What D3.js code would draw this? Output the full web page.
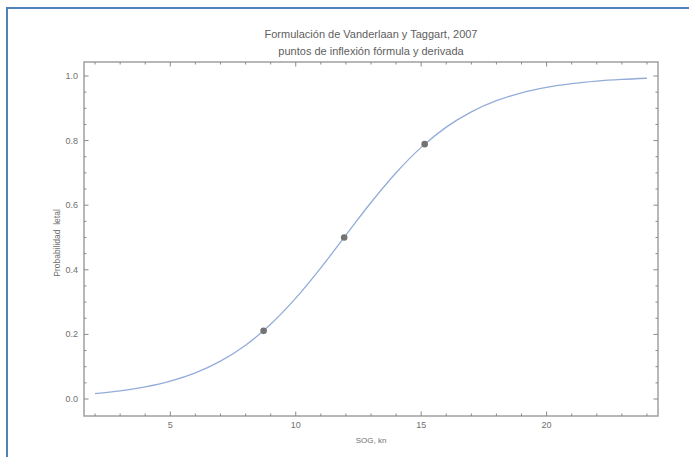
<!DOCTYPE html>
<html><head><meta charset="utf-8">
<script src="https://cdn.jsdelivr.net/npm/d3@7"></script>
<style>body{margin:0;background:#fff}svg{display:block;font-family:"Liberation Sans",Arial,sans-serif}</style>
</head><body><svg id="c" width="689" height="457"></svg>
<script>
const sogValues = [2,3,4,5,6,7,8,9,10,11,12,13,14,15,16,17,18,19,20,21,22,23,24];
const probValues = [0.0168,0.0251,0.0373,0.0552,0.0809,0.1171,0.1666,0.2315,0.3122,0.4061,0.5075,0.6083,0.7006,0.7790,0.8416,0.8890,0.9235,0.9479,0.9648,0.9764,0.9842,0.9894,0.9930];
const pointX = [8.72, 11.93, 15.14];
const pointY = [0.211, 0.5, 0.789];
const xTickLabels = [5, 10, 15, 20];
const yTickLabels = [0.0, 0.2, 0.4, 0.6, 0.8, 1.0];
const titleLines = ["Formulación de Vanderlaan y Taggart, 2007", "puntos de inflexión fórmula y derivada"];
const xLabel = "SOG, kn";
const yLabel = "Probabilidad  letal";

const svg = d3.select("#c");
const L = 84, R = 658, T = 62, B = 416;
const x = d3.scaleLinear().domain([1.56, 24.44]).range([L, R]);
const y = d3.scaleLinear().domain([-0.0526, 1.0433]).range([B, T]);

// page border
svg.append("path").attr("d", `M7,457 L7,8 L689,8`).attr("fill","none").attr("stroke","#4f81bd").attr("stroke-width",2);

// curve
const data = sogValues.map((v,i)=>[v, probValues[i]]);
svg.append("path").datum(data)
  .attr("d", d3.line().x(d=>x(d[0])).y(d=>y(d[1])).curve(d3.curveCatmullRom.alpha(0.5)))
  .attr("fill","none").attr("stroke","#93acd9").attr("stroke-width",1.3);

// points
svg.selectAll("circle.p").data(pointX.map((v,i)=>[v,pointY[i]])).enter().append("circle")
  .attr("cx",d=>x(d[0])).attr("cy",d=>y(d[1])).attr("r",3.3).attr("fill","#737373");

// frame
const frameColor = "#a0a0a0";
const tickColor = "#8a8a8a";
svg.append("rect").attr("x",L).attr("y",T).attr("width",R-L).attr("height",B-T)
  .attr("fill","none").attr("stroke",frameColor).attr("stroke-width",1.5);

// ticks
const xMinor = d3.range(2, 25, 1);
const yMinor = d3.range(0, 1.0001, 0.05).map(v=>+v.toFixed(2));
const g = svg.append("g").attr("stroke",tickColor).attr("stroke-width",1);
xMinor.forEach(v=>{
  const major = xTickLabels.includes(v);
  const len = major ? 4.5 : 2.5;
  g.append("line").attr("x1",x(v)).attr("x2",x(v)).attr("y1",B).attr("y2",B-len);
  g.append("line").attr("x1",x(v)).attr("x2",x(v)).attr("y1",T).attr("y2",T+len);
});
yMinor.forEach(v=>{
  const major = yTickLabels.some(t=>Math.abs(t-v)<1e-6);
  const len = major ? 4.5 : 2.5;
  g.append("line").attr("y1",y(v)).attr("y2",y(v)).attr("x1",L).attr("x2",L+len);
  g.append("line").attr("y1",y(v)).attr("y2",y(v)).attr("x1",R).attr("x2",R-len);
});

// tick labels
svg.selectAll("text.xt").data(xTickLabels).enter().append("text")
  .attr("x",d=>x(d)).attr("y",B+12).attr("text-anchor","middle")
  .attr("font-size",9).attr("fill","#707070").text(d=>d);
svg.selectAll("text.yt").data(yTickLabels).enter().append("text")
  .attr("x",L-6).attr("y",d=>y(d)+3).attr("text-anchor","end")
  .attr("font-size",9).attr("fill","#707070").text(d=>d.toFixed(1));

// titles
titleLines.forEach((t,i)=>{
  svg.append("text").attr("x",(L+R)/2).attr("y",38+i*16.5).attr("text-anchor","middle")
    .attr("font-size",11).attr("fill","#606060").text(t);
});
svg.append("text").attr("x",(L+R)/2).attr("y",443).attr("text-anchor","middle")
  .attr("font-size",8).attr("fill","#707070").text(xLabel);
svg.append("text").attr("transform",`translate(60,243) rotate(-90)`).attr("text-anchor","middle")
  .attr("font-size",8.5).attr("fill","#707070").style("white-space","pre").text(yLabel);
</script>
</body></html>
